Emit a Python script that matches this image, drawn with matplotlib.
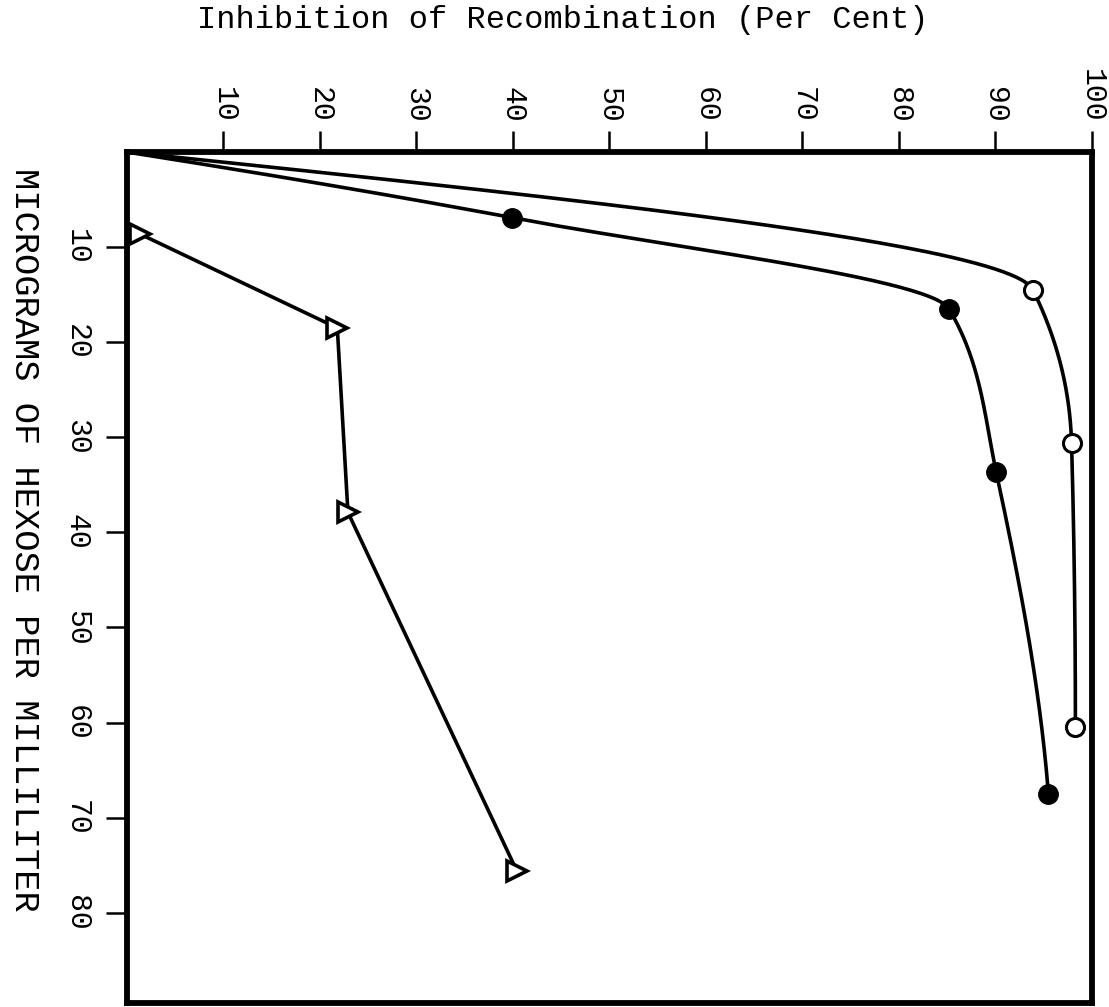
import numpy as np
import matplotlib.pyplot as plt

# hexose (ug/ml) -> inhibition of recombination (%)
hex_filled = [6.9, 16.5, 33.7, 67.5]
inh_filled = [39.9, 85.2, 90.1, 95.5]

hex_open = [14.5, 30.6, 60.5]
inh_open = [93.9, 97.9, 98.3]

hex_tri = [8.6, 18.5, 37.9, 75.6]
inh_tri = [1.3, 21.8, 22.9, 40.4]

inh_ticks = [10, 20, 30, 40, 50, 60, 70, 80, 90, 100]
hex_ticks = [10, 20, 30, 40, 50, 60, 70, 80]

FONT = 'Liberation Mono'


def pchip(x, y, xs):
    # monotone cubic, only used to draw the smooth hand-drawn curves
    x = np.asarray(x, float)
    y = np.asarray(y, float)
    h = np.diff(x)
    d = np.diff(y) / h
    n = len(x)
    m = np.zeros(n)
    for k in range(1, n - 1):
        if d[k - 1] * d[k] > 0:
            w1 = 2 * h[k] + h[k - 1]
            w2 = h[k] + 2 * h[k - 1]
            m[k] = (w1 + w2) / (w1 / d[k - 1] + w2 / d[k])

    def end(h0, h1, d0, d1):
        s = ((2 * h0 + h1) * d0 - h0 * d1) / (h0 + h1)
        if np.sign(s) != np.sign(d0):
            s = 0.0
        elif np.sign(d0) != np.sign(d1) and abs(s) > abs(3 * d0):
            s = 3 * d0
        return s

    m[0] = end(h[0], h[1], d[0], d[1])
    m[-1] = end(h[-1], h[-2], d[-1], d[-2])
    out = np.empty_like(xs)
    for i, v in enumerate(xs):
        k = min(np.searchsorted(x, v, side='right') - 1, n - 2)
        k = max(k, 0)
        t = (v - x[k]) / h[k]
        h00 = 2 * t**3 - 3 * t**2 + 1
        h10 = t**3 - 2 * t**2 + t
        h01 = -2 * t**3 + 3 * t**2
        h11 = t**3 - t**2
        out[i] = h00 * y[k] + h10 * h[k] * m[k] + h01 * y[k + 1] + h11 * h[k] * m[k + 1]
    return out


fig = plt.figure(figsize=(11.09, 10.07), dpi=100)
ax = fig.add_axes([0.1145, 0.004, 0.870, 0.845])

lw = 2.6
# curves start at the origin corner
hx = [0] + hex_filled
hy = [0] + inh_filled
s = np.linspace(0, hex_filled[-1], 400)
ax.plot(pchip(hx, hy, s), s, color='black', lw=lw, solid_capstyle='round')

hx = [0] + hex_open
hy = [0] + inh_open
s = np.linspace(0, hex_open[-1], 400)
ax.plot(pchip(hx, hy, s), s, color='black', lw=lw, solid_capstyle='round')

ax.plot(inh_tri, hex_tri, color='black', lw=lw)

ax.plot(inh_filled, hex_filled, 'o', ms=14, color='black', clip_on=False, zorder=5)
ax.plot(inh_open, hex_open, 'o', ms=13, mfc='white', mec='black', mew=2.2,
        clip_on=False, zorder=5)
ax.plot(inh_tri, hex_tri, '>', ms=15, mfc='white', mec='black', mew=2.6,
        clip_on=False, zorder=5)

ax.set_xlim(0, 100)
ax.set_ylim(89.5, 0)

ax.xaxis.tick_top()
ax.set_xticks(inh_ticks)
ax.set_xticklabels([str(v) for v in inh_ticks], rotation=-90, family=FONT,
                   fontsize=21.5, va='bottom', ha='center')
ax.set_yticks(hex_ticks)
ax.set_yticklabels([str(v) for v in hex_ticks], rotation=-90, family=FONT,
                   fontsize=21.5, va='center', ha='right')
ax.tick_params(axis='x', direction='out', length=15, width=1.8, pad=6)
ax.tick_params(axis='y', direction='out', length=15, width=1.8, pad=11)

for sp in ax.spines.values():
    sp.set_linewidth(4.2)

fig.text(0.507, 0.980, 'Inhibition of Recombination (Per Cent)', family=FONT,
         fontsize=23, ha='center', va='center')
fig.text(0.0225, 0.464, 'MICROGRAMS OF HEXOSE PER MILLILITER', family=FONT,
         fontsize=25.5, rotation=-90, ha='center', va='center')

fig.savefig('out.png', dpi=100)
